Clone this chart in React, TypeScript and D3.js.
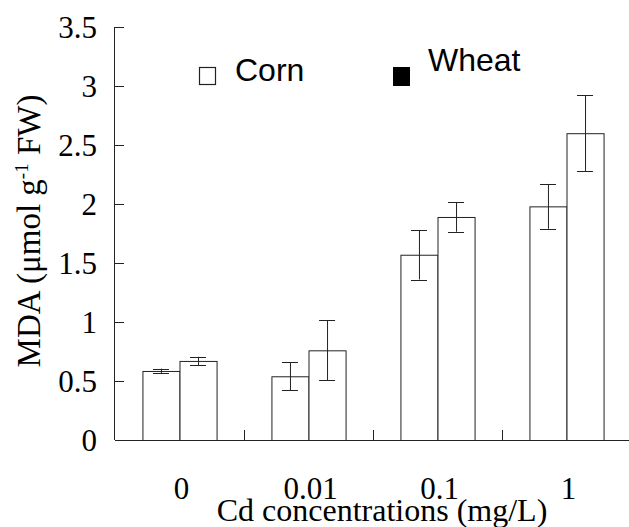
import React from "react";
import * as d3 from "d3";

const categories = ["0", "0.01", "0.1", "1"];
const series = ["Corn", "Wheat"];
const cornValues = [0.585, 0.54, 1.57, 1.98];
const cornErrors = [0.02, 0.12, 0.21, 0.19];
const wheatValues = [0.67, 0.76, 1.89, 2.6];
const wheatErrors = [0.035, 0.255, 0.125, 0.32];
const yTicks = [0, 0.5, 1, 1.5, 2, 2.5, 3, 3.5];

const W = 629;
const H = 527;
const left = 115;
const right = 631;
const top = 27;
const bottom = 440;

export default function App() {
  const y = d3.scaleLinear().domain([0, 3.5]).range([bottom, top]);
  const x0 = d3.scaleBand<string>().domain(categories).range([left, right]).padding(0);
  const x1 = d3
    .scaleBand<string>()
    .domain(series)
    .range([0, x0.bandwidth()])
    .paddingInner(0)
    .paddingOuter(0.74);
  const values = [cornValues, wheatValues];
  const errors = [cornErrors, wheatErrors];
  const serif = "'Liberation Serif', 'Times New Roman', serif";
  const sans = "'Liberation Sans', Arial, sans-serif";
  const stroke = "#222";

  return (
    <svg width={W} height={H} style={{ position: "absolute", left: 0, top: 0, background: "#fff" }}>
      {/* bars */}
      {categories.map((c, i) =>
        series.map((s, j) => {
          const bx = (x0(c) as number) + (x1(s) as number);
          const bw = x1.bandwidth();
          const v = values[j][i];
          const e = errors[j][i];
          const cx = bx + bw / 2;
          return (
            <g key={c + s}>
              <rect x={bx + 0.5} y={y(v) + 0.5} width={bw} height={bottom - y(v)} fill="#fff" stroke={stroke} strokeWidth={1} />
              <line x1={cx + 0.5} x2={cx + 0.5} y1={y(v + e)} y2={y(v - e)} stroke={stroke} strokeWidth={1} />
              <line x1={cx - 8} x2={cx + 8} y1={Math.round(y(v + e)) + 0.5} y2={Math.round(y(v + e)) + 0.5} stroke={stroke} />
              <line x1={cx - 8} x2={cx + 8} y1={Math.round(y(v - e)) + 0.5} y2={Math.round(y(v - e)) + 0.5} stroke={stroke} />
            </g>
          );
        })
      )}
      {/* y axis */}
      <line x1={left - 0.5} x2={left - 0.5} y1={top} y2={bottom} stroke={stroke} />
      {yTicks.map((t) => (
        <g key={t}>
          <line x1={left} x2={left + 9} y1={Math.round(y(t)) + 0.5} y2={Math.round(y(t)) + 0.5} stroke={stroke} />
          <text x={97} y={y(t) + 11} textAnchor="end" fontFamily={serif} fontSize={31} fill="#000">
            {t}
          </text>
        </g>
      ))}
      {/* x axis */}
      <line x1={left} x2={W} y1={bottom + 0.5} y2={bottom + 0.5} stroke={stroke} />
      {categories.slice(1).map((c) => (
        <line key={c} x1={(x0(c) as number) + 0.5} x2={(x0(c) as number) + 0.5} y1={bottom} y2={bottom - 10} stroke={stroke} />
      ))}
      {categories.map((c) => (
        <text key={c} x={(x0(c) as number) + x0.bandwidth() / 2 + 2} y={499} textAnchor="middle" fontFamily={serif} fontSize={31} fill="#000">
          {c}
        </text>
      ))}
      <text x={382} y={521} textAnchor="middle" fontFamily={serif} fontSize={32} fill="#000">
        Cd concentrations (mg/L)
      </text>
      {/* y title */}
      <text transform="translate(40,231) rotate(-90)" textAnchor="middle" fontFamily={serif} fontSize={33} fill="#000">
        MDA (μmol g
        <tspan dy={-12} fontSize={19}>-1</tspan>
        <tspan dy={12}> FW)</tspan>
      </text>
      {/* legend */}
      <rect x={199.5} y={67.5} width={16} height={17} fill="#fff" stroke={stroke} strokeWidth={1.2} />
      <text x={235} y={81} fontFamily={sans} fontSize={32} fill="#000">
        {series[0]}
      </text>
      <rect x={393} y={67} width={17} height={19} fill="#000" />
      <text x={428} y={71} fontFamily={sans} fontSize={32} fill="#000">
        {series[1]}
      </text>
    </svg>
  );
}
